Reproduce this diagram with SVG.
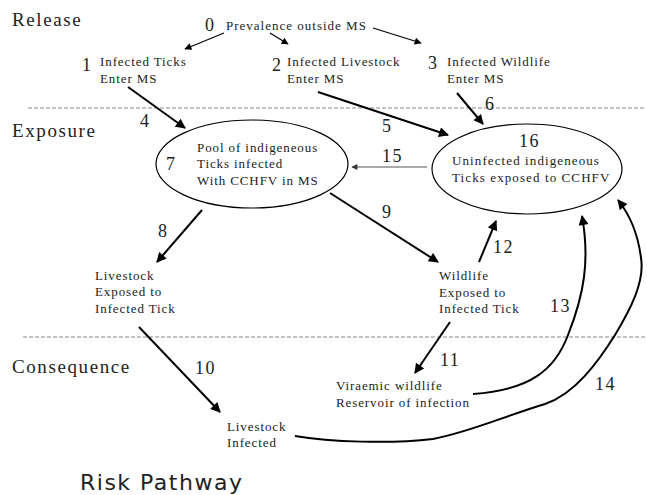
<svg xmlns="http://www.w3.org/2000/svg" width="647" height="495" viewBox="0 0 647 495">
<style>
text{font-family:"Liberation Serif","Times New Roman",serif;fill:#222}
.sec{font-size:19px;letter-spacing:1.6px}
.lbl{font-size:13px;letter-spacing:0.9px}
.num{font-size:18px;letter-spacing:1.5px}
.title{font-family:"DejaVu Sans",Verdana,sans-serif;font-size:22px;letter-spacing:1.5px}
.dash{stroke:#888;stroke-width:1;stroke-dasharray:4 2;fill:none}
.ell{fill:#fff;stroke:#000;stroke-width:1.2}
.thin{stroke:#000;stroke-width:1.2;fill:none}
.thick{stroke:#000;stroke-width:2;fill:none}
.gray{stroke:#555;stroke-width:1.2;fill:none}
</style>
<defs>
<marker id="big" viewBox="0 0 10 10" refX="9" refY="5" markerWidth="12" markerHeight="10" markerUnits="userSpaceOnUse" orient="auto"><path d="M0,0 L10,5 L0,10 z" fill="#000"/></marker>
<marker id="small" viewBox="0 0 10 10" refX="9" refY="5" markerWidth="9" markerHeight="7" markerUnits="userSpaceOnUse" orient="auto"><path d="M0,0 L10,5 L0,10 z" fill="#000"/></marker>
<marker id="tiny" viewBox="0 0 10 10" refX="9" refY="5" markerWidth="8" markerHeight="6" markerUnits="userSpaceOnUse" orient="auto"><path d="M0,0 L10,5 L0,10 z" fill="#333"/></marker>
</defs>
<rect width="647" height="495" fill="#fff"/>
<g id="sections">
<text class="sec" x="12" y="26">Release</text>
<text class="sec" x="12" y="137">Exposure</text>
<text class="sec" x="12" y="373">Consequence</text>
<line class="dash" x1="28" y1="108" x2="646" y2="108"/>
<line class="dash" x1="23" y1="337" x2="646" y2="337"/>
<text class="title" x="80" y="490">Risk Pathway</text>
</g>
<g id="connectors">
<line class="thin" x1="224" y1="33" x2="185" y2="49" marker-end="url(#small)"/>
<line class="thin" x1="270" y1="33" x2="288" y2="44" marker-end="url(#small)"/>
<line class="thin" x1="373" y1="28" x2="421" y2="43" marker-end="url(#small)"/>
<line class="thick" x1="128" y1="87" x2="185" y2="128" marker-end="url(#big)"/>
<text class="num" x="140" y="127">4</text>
<line class="thick" x1="318" y1="92" x2="448" y2="135" marker-end="url(#big)"/>
<text class="num" x="382" y="132">5</text>
<line class="thick" x1="457" y1="93" x2="483" y2="124" marker-end="url(#big)"/>
<text class="num" x="485" y="110">6</text>
<line class="gray" x1="427" y1="167" x2="352" y2="167" marker-end="url(#tiny)"/>
<text class="num" x="382" y="162">15</text>
<line class="thick" x1="202" y1="210" x2="157" y2="262" marker-end="url(#big)"/>
<text class="num" x="158" y="237">8</text>
<line class="thick" x1="330" y1="193" x2="438" y2="262" marker-end="url(#big)"/>
<text class="num" x="382" y="218">9</text>
<line class="thick" x1="139" y1="327" x2="220" y2="412" marker-end="url(#big)"/>
<text class="num" x="195" y="374">10</text>
<line class="thick" x1="450" y1="322" x2="415" y2="373" marker-end="url(#big)"/>
<text class="num" x="440" y="366">11</text>
<line class="thick" x1="479" y1="262" x2="496" y2="221" marker-end="url(#big)"/>
<text class="num" x="493" y="253">12</text>
<path class="thick" d="M473,394 C530,390 555,370 568,335 C584,295 590,260 582,216" marker-end="url(#big)"/>
<text class="num" x="550" y="312">13</text>
<path class="thick" d="M295,436 C330,442 390,444 433,439 C470,432 505,416 545,404 C575,394 598,362 615,335 C630,310 645,282 641,258 C638,234 630,215 618,200" marker-end="url(#big)"/>
<text class="num" x="595" y="390">14</text>
</g>
<g id="n0">
<text class="num" x="205" y="31">0</text>
<text class="lbl" x="226" y="30" style="letter-spacing:1px">Prevalence outside MS</text>
</g>
<g id="n1">
<text class="num" x="82" y="71">1</text>
<text class="lbl" x="100" y="66">Infected Ticks</text>
<text class="lbl" x="100" y="83">Enter MS</text>
</g>
<g id="n2">
<text class="num" x="272" y="71">2</text>
<text class="lbl" x="287" y="66">Infected Livestock</text>
<text class="lbl" x="287" y="83">Enter MS</text>
</g>
<g id="n3">
<text class="num" x="428" y="69">3</text>
<text class="lbl" x="447" y="66">Infected Wildlife</text>
<text class="lbl" x="447" y="83">Enter MS</text>
</g>
<g id="n7">
<ellipse class="ell" cx="252" cy="164" rx="96" ry="44"/>
<text class="num" x="166" y="170">7</text>
<text class="lbl" x="197" y="152">Pool of indigeneous</text>
<text class="lbl" x="197" y="168">Ticks infected</text>
<text class="lbl" x="197" y="185">With CCHFV in MS</text>
</g>
<g id="n16">
<ellipse class="ell" cx="527" cy="169" rx="95" ry="45"/>
<text class="num" x="519" y="147">16</text>
<text class="lbl" x="452" y="165" style="letter-spacing:1.1px">Uninfected indigeneous</text>
<text class="lbl" x="452" y="182" style="letter-spacing:1.1px">Ticks exposed to CCHFV</text>
</g>
<g id="livestock-exposed">
<text class="lbl" x="95" y="280">Livestock</text>
<text class="lbl" x="95" y="296">Exposed to</text>
<text class="lbl" x="95" y="313">Infected Tick</text>
</g>
<g id="wildlife-exposed">
<text class="lbl" x="439" y="280">Wildlife</text>
<text class="lbl" x="439" y="297">Exposed to</text>
<text class="lbl" x="439" y="313">Infected Tick</text>
</g>
<g id="viraemic-wildlife">
<text class="lbl" x="336" y="390">Viraemic wildlife</text>
<text class="lbl" x="336" y="407">Reservoir of infection</text>
</g>
<g id="livestock-infected">
<text class="lbl" x="227" y="431">Livestock</text>
<text class="lbl" x="227" y="447">Infected</text>
</g>
</svg>
